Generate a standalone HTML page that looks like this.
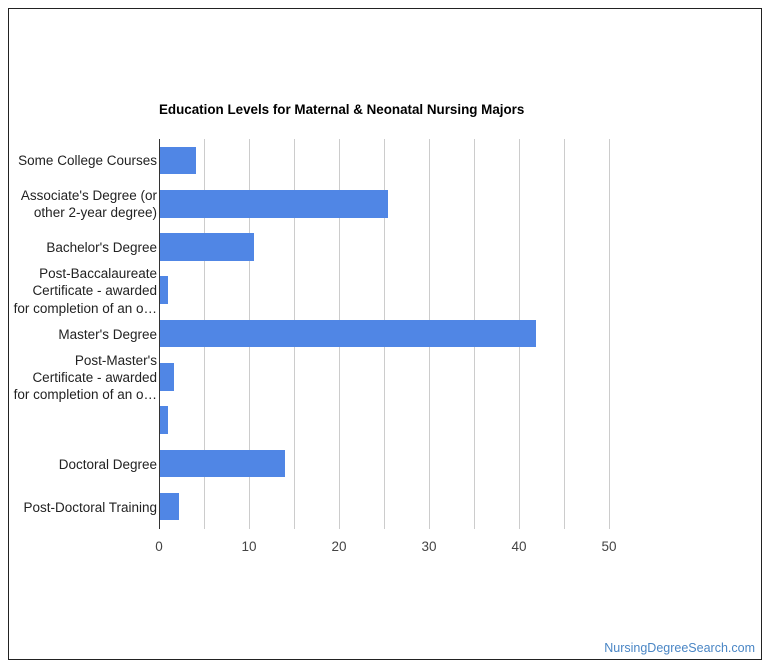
<!DOCTYPE html>
<html><head><meta charset="utf-8"><style>
body{margin:0;background:#fff;}
svg{display:block;font-family:"Liberation Sans",Arial,sans-serif;}
</style></head><body>
<svg width="770" height="670" xmlns="http://www.w3.org/2000/svg">
<rect x="8.5" y="8.5" width="753" height="651" fill="#fff" stroke="#222" stroke-width="1"/>
<text x="159" y="114" font-size="13.4" font-weight="bold" fill="#000">Education Levels for Maternal &amp; Neonatal Nursing Majors</text>
<g stroke="#ccc" stroke-width="1">
<line x1="204.5" y1="139" x2="204.5" y2="529"/>
<line x1="249.5" y1="139" x2="249.5" y2="529"/>
<line x1="294.5" y1="139" x2="294.5" y2="529"/>
<line x1="339.5" y1="139" x2="339.5" y2="529"/>
<line x1="384.5" y1="139" x2="384.5" y2="529"/>
<line x1="429.5" y1="139" x2="429.5" y2="529"/>
<line x1="474.5" y1="139" x2="474.5" y2="529"/>
<line x1="519.5" y1="139" x2="519.5" y2="529"/>
<line x1="564.5" y1="139" x2="564.5" y2="529"/>
<line x1="609.5" y1="139" x2="609.5" y2="529"/>
</g>
<g fill="#5086e5">
<rect x="159" y="147" width="37" height="27"/>
<rect x="159" y="190" width="229" height="28"/>
<rect x="159" y="233" width="95" height="28"/>
<rect x="159" y="276" width="9" height="28"/>
<rect x="159" y="320" width="377" height="27"/>
<rect x="159" y="363" width="15" height="28"/>
<rect x="159" y="406" width="9" height="28"/>
<rect x="159" y="450" width="126" height="27"/>
<rect x="159" y="493" width="20" height="27"/>
</g>
<line x1="159.5" y1="139" x2="159.5" y2="529" stroke="#333" stroke-width="1"/>
<g font-size="13.5" fill="#222" text-anchor="end">
<text x="157" y="165">Some College Courses</text>
<text x="157" y="200">Associate's Degree (or</text>
<text x="157" y="217">other 2-year degree)</text>
<text x="157" y="252">Bachelor's Degree</text>
<text x="157" y="278">Post-Baccalaureate</text>
<text x="157" y="295">Certificate - awarded</text>
<text x="157" y="313">for completion of an o…</text>
<text x="157" y="339">Master's Degree</text>
<text x="157" y="365">Post-Master's</text>
<text x="157" y="382">Certificate - awarded</text>
<text x="157" y="399">for completion of an o…</text>
<text x="157" y="469">Doctoral Degree</text>
<text x="157" y="512">Post-Doctoral Training</text>
</g>
<g font-size="13.5" fill="#444" text-anchor="middle">
<text x="159" y="551">0</text>
<text x="249" y="551">10</text>
<text x="339" y="551">20</text>
<text x="429" y="551">30</text>
<text x="519" y="551">40</text>
<text x="609" y="551">50</text>
</g>
<text x="755" y="652" font-size="12.5" fill="#4a86c5" text-anchor="end">NursingDegreeSearch.com</text>
</svg>
</body></html>
